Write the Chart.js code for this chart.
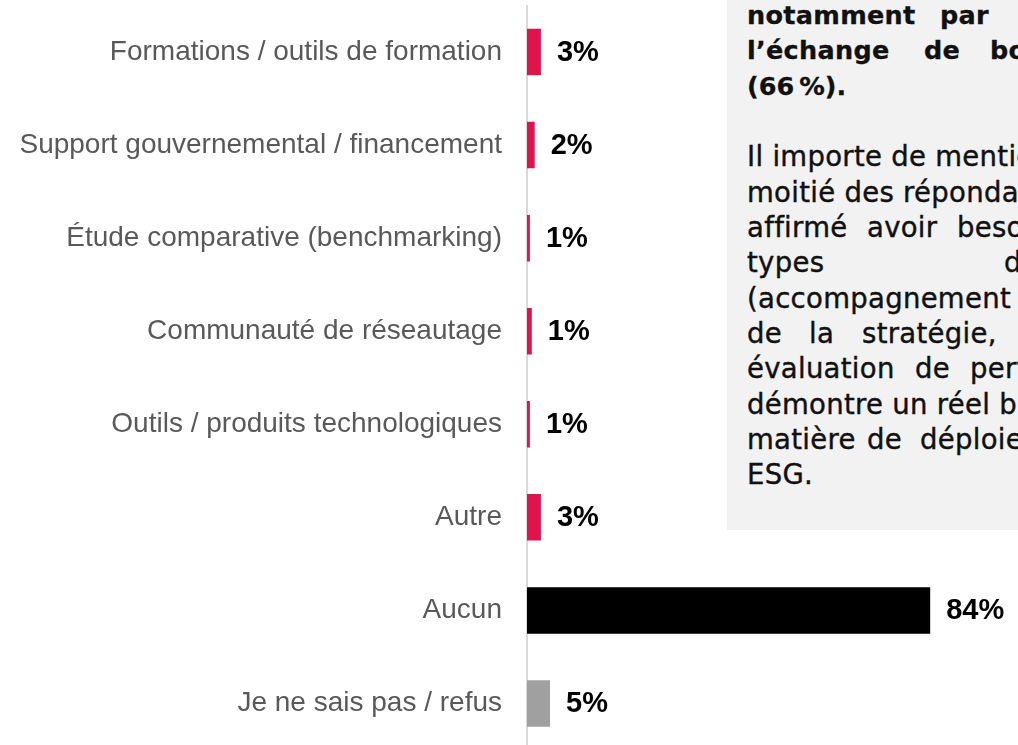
<!DOCTYPE html>
<html>
<head>
<meta charset="utf-8">
<script src="https://cdn.jsdelivr.net/npm/chart.js@4.4.1/dist/chart.umd.min.js"></script>
<style>
  html, body { margin: 0; padding: 0; background: #fff; overflow: hidden; }
  #wrap { position: relative; width: 1018px; height: 745px; overflow: hidden; }
  #myChart { position: absolute; left: 0; top: 0; }
  .note {
    position: absolute; left: 727px; top: 0; width: 400px; height: 530px;
    background: #f2f2f2; z-index: 2;
  }
  .note .txt {
    position: absolute; left: 20px; top: -2px; width: 380px;
    font-family: "DejaVu Sans", sans-serif; font-size: 27.5px; line-height: 35.35px;
    color: #111; white-space: nowrap; letter-spacing: 0.3px;
    -webkit-text-stroke: 0.4px #111;
  }
  .note .txt > div { position: relative; height: 35.35px; }
  .note .txt span { position: absolute; top: 0; }
  .note .b { font-weight: 700; font-size: 25.5px; letter-spacing: 0.3px; -webkit-text-stroke: 0.3px #111; }
</style>
</head>
<body>
<div id="wrap">
  <canvas id="myChart" width="1018" height="750"></canvas>
  <div class="note">
    <div class="txt">
      <div class="b"><span style="left:0">notamment</span><span style="left:193px">par</span></div>
      <div class="b"><span style="left:0">l’échange</span><span style="left:177px">de</span><span style="left:243px">bonnes</span></div>
      <div class="b"><span style="left:0">(66&#8239;%).</span></div>
      <div></div>
      <div><span style="left:0">Il importe de mentionner que</span></div>
      <div><span style="left:0">moitié des répondants</span></div>
      <div><span style="left:0">affirmé</span><span style="left:120px">avoir</span><span style="left:210px">besoin</span></div>
      <div><span style="left:0">types</span><span style="left:257px">de</span></div>
      <div><span style="left:0">(accompagnement dans</span></div>
      <div><span style="left:0">de</span><span style="left:62px">la</span><span style="left:115px">stratégie,</span></div>
      <div><span style="left:0">évaluation</span><span style="left:168px">de</span><span style="left:223px">performance</span></div>
      <div><span style="left:0">démontre un réel besoin</span></div>
      <div><span style="left:0">matière</span><span style="left:120px">de</span><span style="left:173px">déploiement</span></div>
      <div><span style="left:0">ESG.</span></div>
    </div>
  </div>
</div>
<script>
const categories = [
  'Formations / outils de formation',
  'Support gouvernemental / financement',
  'Étude comparative (benchmarking)',
  'Communauté de réseautage',
  'Outils / produits technologiques',
  'Autre',
  'Aucun',
  'Je ne sais pas / refus'
];
const values = [2.9, 1.6, 0.6, 1.0, 0.6, 2.9, 84, 4.8];
const barColors = ['#e0144c', '#e0144c', '#e0144c', '#e0144c', '#e0144c', '#e0144c', '#000000', '#a0a0a0'];

// etiquettes de valeur a droite des barres
const valueLabels = {
  id: 'valueLabels',
  afterDatasetsDraw(chart) {
    const c = chart.ctx;
    const meta = chart.getDatasetMeta(0);
    c.save();
    c.font = 'bold 29px "Liberation Sans", Arial, sans-serif';
    c.fillStyle = '#000';
    c.textBaseline = 'middle';
    c.textAlign = 'left';
    meta.data.forEach((bar, i) => {
      c.fillText(Math.round(values[i]) + '%', bar.x + 16, bar.y + 1);
    });
    c.restore();
  }
};

const ctx = document.getElementById('myChart');

var chart = new Chart(ctx, {
  type: 'bar',
  data: {
    labels: categories,
    datasets: [{
      data: values,
      backgroundColor: barColors,
      borderWidth: 0,
      barPercentage: 0.5,
      categoryPercentage: 1
    }]
  },
  options: {
    indexAxis: 'y',
    responsive: false,
    animation: false,
    layout: { padding: { top: 5.5, right: 11, bottom: 0, left: 0 } },
    plugins: {
      legend: { display: false },
      tooltip: { enabled: false }
    },
    scales: {
      x: { display: false, min: 0, max: 100 },
      y: {
        grid: { display: false, drawTicks: false },
        border: { display: true, color: '#d9d9d9', width: 2 },
        ticks: {
          padding: 25,
          color: '#595959',
          font: { family: '"Liberation Sans", Arial, sans-serif', size: 28 }
        },
        afterFit: (scale) => {
          scale.width = 527;
          scale.paddingTop = 0;
          scale.paddingBottom = 0;
        }
      }
    }
  },
  plugins: [valueLabels]
});
</script>
</body>
</html>
